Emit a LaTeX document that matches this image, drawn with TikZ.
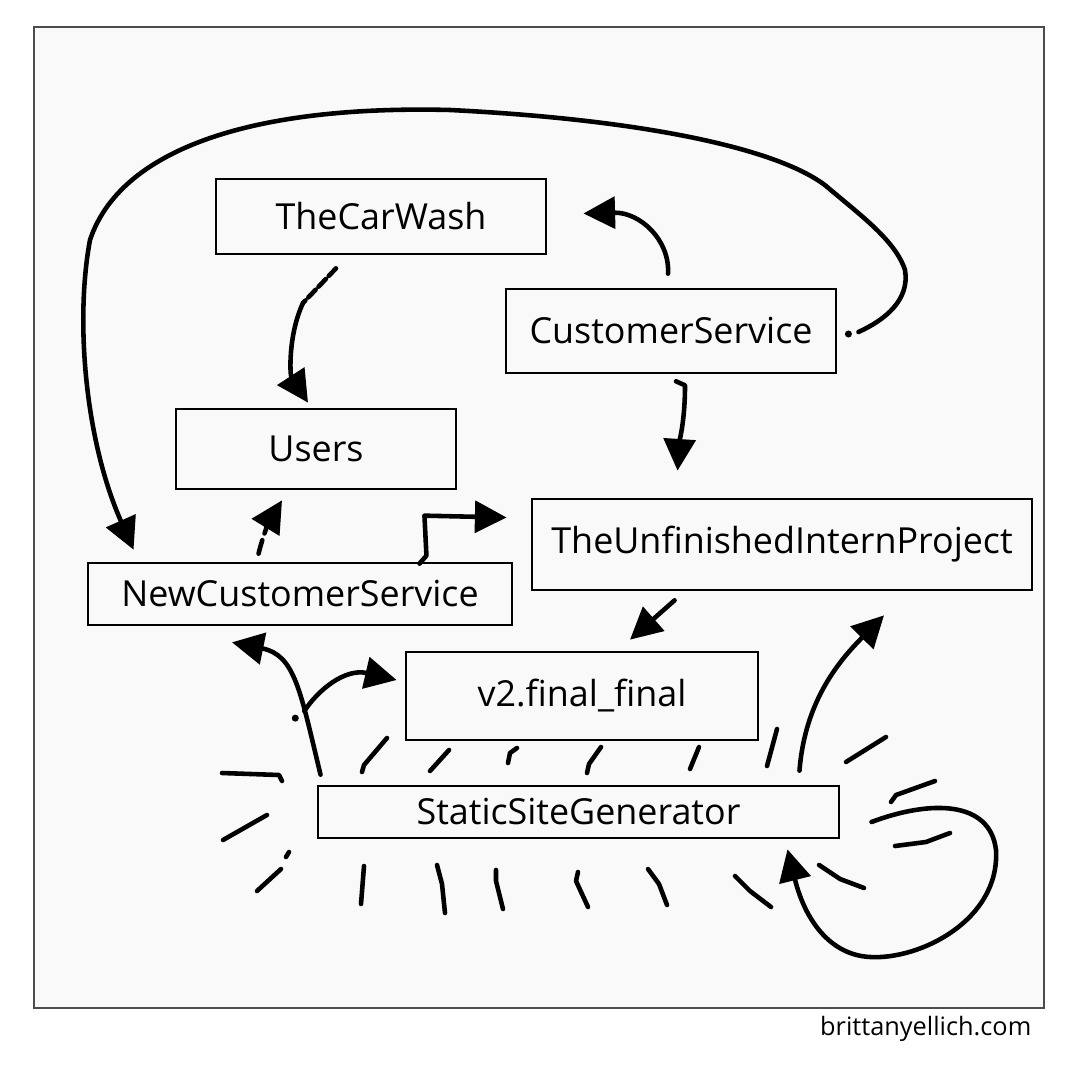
\documentclass[tikz,border=0pt]{standalone}
\usepackage{fontspec}
\setmainfont{Open Sans}
\usetikzlibrary{arrows.meta,calc}
\definecolor{paper}{HTML}{F9F9F9}
\begin{document}
\begin{tikzpicture}[x=0.01cm,y=-0.01cm,
  box/.style={draw,line width=0.75pt,inner sep=0pt,font=\fontsize{10.2}{12}\selectfont},
  pen/.style={line width=1.3pt,line cap=round,line join=round},
  >={Triangle[length=9pt,width=9pt]}]
\useasboundingbox (0,0) rectangle (1080,1080);
\draw[black!70,line width=0.6pt,fill=paper] (34,27) rectangle (1044,1008);
\node[box,minimum width=3.30cm,minimum height=0.75cm] (cw) at (381,216.5) {TheCarWash};
\node[box,minimum width=2.80cm,minimum height=0.80cm] (us) at (316,449) {Users};
\node[box,minimum width=3.30cm,minimum height=0.84cm] (cs) at (671,331) {CustomerService};
\node[box,minimum width=5.00cm,minimum height=0.91cm] (tu) at (782,544.5) {TheUnfinishedInternProject};
\node[box,minimum width=4.24cm,minimum height=0.62cm] (nc) at (300,594) {NewCustomerService};
\node[box,minimum width=3.52cm,minimum height=0.88cm] (v2) at (582,696) {v2.final\_final};
\node[box,minimum width=5.21cm,minimum height=0.52cm] (sg) at (578.5,812) {StaticSiteGenerator};
\node[anchor=east,inner sep=0pt,font=\fontsize{7.2}{8}\selectfont] (url) at (1032,1029) {brittanyellich.com};
\fill ($(cs.east)+(11,3)$) circle (1pt);
\draw[pen,->] ($(cs.east)+(21,1)$) .. controls (885,320) and (910,300) .. (905,270)
  .. controls (895,240) and (860,215) .. (826,186) .. controls (780,150) and (650,120) .. (450,110)
  .. controls (250,105) and (120,150) .. (90,240) .. controls (75,320) and (85,440) .. ($(nc.north west)+(47,-12)$);
\draw[pen,->] ($(cs.north)+(-3,-14)$) .. controls (670,240) and (640,212) .. ($(cw.east)+(36,-3)$);
\coordinate (k) at (303,303);
\draw[pen,dash pattern=on 3pt off 1.2pt] ($(cw.south)+(-45,13)$) -- (k);
\draw[pen,->] (k) .. controls (288,335) and (290,375) .. ($(us.north)+(-8,-5)$);
\draw[pen,->] ($(cs.south)+(5,7)$) -- ++(9,4) .. controls +(0,35) and +(2,-30) .. ($(tu.north west)+(147,-27)$);
\draw[pen,->,dash pattern=on 4pt off 2pt] ($(nc.north west)+(172,-8)$) .. controls (263,535) and (270,520) .. ($(us.south)+(-34,10)$);
\draw[pen,->] ($(nc.north east)+(-94,2)$) -- ++(7,-8) -- ++(-2,-40) -- ($(tu.west)+(-24,-27)$);
\draw[pen,->] ($(tu.south west)+(144,9)$) -- ($(v2.north)+(48,-11)$);
\draw[pen,->] ($(sg.north west)+(4,-10)$) .. controls (300,690) and (295,655) .. coordinate[pos=0.3] (fork) ($(nc.south)+(-68,16)$);
\fill ($(fork)+(-9,7)$) circle (1pt);
\draw[pen,->] (fork) .. controls (318,690) and (345,668) .. ($(v2.west)+(-8,-16)$);
\draw[pen,->] ($(sg.north east)+(-41,-14)$) .. controls (805,700) and (840,660) .. ($(tu.south)+(102,24)$);
\draw[pen,->] ($(sg.east)+(31,10)$) .. controls (930,800) and (990,800) .. (996,850)
  .. controls (1000,920) and (920,960) .. (870,957) .. controls (830,955) and (805,920) .. ($(sg.south east)+(-53,10)$);
\draw[pen] (222,773) -- (279,775) -- (282,781);
\draw[pen] (223,840) -- (267,815);
\draw[pen] (257,891) -- (281,869) (286,857) -- (289,852);
\draw[pen] (362,772) -- (364,765) -- (387,738);
\draw[pen] (430,771) -- (449,750);
\draw[pen] (508,763) -- (510,753) -- (517,748);
\draw[pen] (587,773) -- (589,764) -- (601,747);
\draw[pen] (690,769) -- (699,747);
\draw[pen] (767,766) -- (777,729);
\draw[pen] (846,762) -- (886,737);
\draw[pen] (891,802) -- (896,795) -- (935,781);
\draw[pen] (895,846) -- (926,842) -- (950,833);
\draw[pen] (819,865) -- (840,879) -- (864,888);
\draw[pen] (361,904) -- (364,866);
\draw[pen] (437,865) -- (442,884) -- (445,913);
\draw[pen] (496,870) -- (496,881) -- (503,909);
\draw[pen] (578,872) -- (576,881) -- (588,907);
\draw[pen] (648,869) -- (659,884) -- (667,905);
\draw[pen] (735,876) -- (750,891) -- (771,907);
\end{tikzpicture}
\end{document}
